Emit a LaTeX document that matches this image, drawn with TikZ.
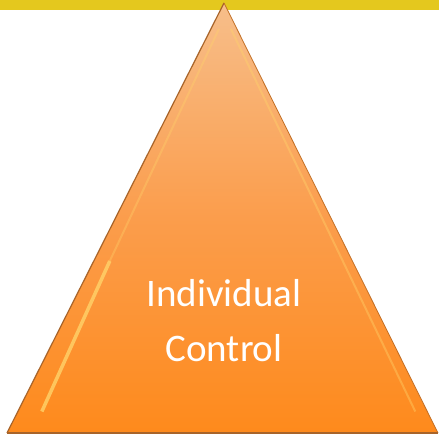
\documentclass[tikz,border=0pt]{standalone}
\usepackage{fontspec}
\setmainfont{Carlito}
\usetikzlibrary{calc}
\definecolor{bandyellow}{HTML}{E4C81E}
\definecolor{toporange}{HTML}{F7BE8A}
\definecolor{midorange}{HTML}{FB9D4C}
\definecolor{botorange}{HTML}{FE8A1C}
\definecolor{edgebrown}{HTML}{A8642A}
\definecolor{hilite}{HTML}{FFD36A}
\begin{document}
\begin{tikzpicture}[x=1pt,y=1pt,
  labeltext/.style={text=white,font=\fontsize{39}{55}\selectfont,anchor=base,inner sep=0pt}]
\useasboundingbox (0,0) rectangle (439,436);
\fill[white] (0,0) rectangle (439,436);
\fill[bandyellow] (0,426) rectangle (439,436);
\coordinate (apex) at (224,433);
\coordinate (bl) at (7,3);
\coordinate (br) at (438,3);
\shade[top color=toporange,bottom color=botorange,middle color=midorange]
  (apex) -- (br) -- (bl) -- cycle;
% bevel highlights
\draw[hilite,line width=2pt,opacity=0.35] ($(apex)!0.06!(bl)+(8,0)$) -- ($(apex)!0.6!(bl)+(16,0)$);
\draw[hilite,line width=3.5pt,opacity=0.8] ($(apex)!0.6!(bl)+(16,0)$) -- ($(apex)!0.95!(bl)+(24,0)$);
\draw[hilite,line width=2pt,opacity=0.4] ($(apex)!0.06!(br)+(-6,0)$) -- ($(apex)!0.95!(br)+(-12,0)$);
\draw[edgebrown,line width=1.2pt] (bl) -- (apex);
\draw[edgebrown!70!botorange,line width=0.8pt] (apex) -- (br);
\draw[edgebrown,line width=2pt] (bl) -- (br);
\node[labeltext] (line1) at (224,129) {Individual};
\node[labeltext] (line2) at (224,74) {Control};
\end{tikzpicture}
\end{document}
